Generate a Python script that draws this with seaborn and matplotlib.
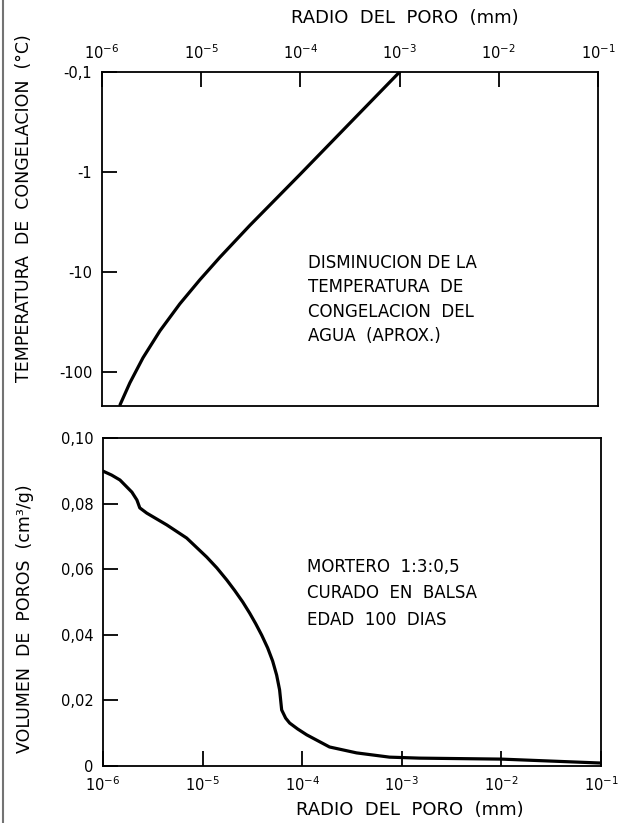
import matplotlib
matplotlib.use("Agg")
import matplotlib.pyplot as plt
import matplotlib.ticker as mticker
from matplotlib.lines import Line2D
import pandas as pd
import seaborn as sns

# ---------------- data ----------------
# Top panel: freezing temperature (deg C) vs pore radius (mm)
radio_sup = [1.52e-6, 1.91e-6, 2.59e-6, 3.84e-6, 6.09e-6, 9.70e-6,
             1.54e-5, 3.09e-5, 1.0e-4, 3.16e-4, 1.0e-3]
temp_cong = [-214, -129, -72.4, -38.9, -20.9, -12.0,
             -7.16, -3.43, -1.05, -0.324, -0.10]

# Bottom panel: pore volume (cm3/g) vs pore radius (mm)
radio_inf = [1.00e-6, 1.22e-6, 1.48e-6, 1.95e-6, 2.19e-6, 2.34e-6, 2.75e-6,
             4.37e-6, 6.92e-6, 1.10e-5, 1.39e-5, 1.75e-5, 2.10e-5, 2.53e-5,
             2.97e-5, 3.41e-5, 3.92e-5, 4.50e-5, 5.05e-5, 5.54e-5, 5.93e-5,
             6.22e-5, 6.82e-5, 7.48e-5, 8.99e-5, 1.11e-4, 1.88e-4, 3.51e-4,
             7.52e-4, 1.50e-3, 1.0e-2, 1.0e-1]
vol_poros = [0.0899, 0.0887, 0.0872, 0.0835, 0.0811, 0.0787, 0.0771,
             0.0735, 0.0695, 0.0637, 0.0604, 0.0567, 0.0535, 0.0500,
             0.0466, 0.0434, 0.0399, 0.0360, 0.0320, 0.0277, 0.0232,
             0.0171, 0.0146, 0.0131, 0.0113, 0.0095, 0.0058, 0.0040,
             0.0027, 0.0024, 0.0021, 0.0009]

x_ticks = [1e-6, 1e-5, 1e-4, 1e-3, 1e-2, 1e-1]
x_ticklabels = [r"$10^{-6}$", r"$10^{-5}$", r"$10^{-4}$", r"$10^{-3}$",
                r"$10^{-2}$", r"$10^{-1}$"]
t_ticks = [0.1, 1, 10, 100]
t_ticklabels = ["-0,1", "-1", "-10", "-100"]
v_ticks = [0, 0.02, 0.04, 0.06, 0.08, 0.10]
v_ticklabels = ["0", "0,02", "0,04", "0,06", "0,08", "0,10"]

texto_sup = "DISMINUCION DE LA\nTEMPERATURA  DE\nCONGELACION  DEL\nAGUA  (APROX.)"
texto_inf = "MORTERO  1:3:0,5\nCURADO  EN  BALSA\nEDAD  100  DIAS"

# ---------------- style ----------------
sns.set_style("ticks")
plt.rcParams["font.family"] = ["DejaVu Sans"]
plt.rcParams["mathtext.fontset"] = "dejavusans"
plt.rcParams["text.color"] = "black"

W, H = 626, 823
fig = plt.figure(figsize=(W / 100, H / 100), dpi=100)


def fx(px):
    return px / W


def fy(py):
    return 1 - py / H


ax1 = fig.add_axes([fx(102), fy(406), fx(598) - fx(102), fy(72) - fy(406)])
ax2 = fig.add_axes([fx(103), fy(766), fx(601) - fx(103), fy(438) - fy(766)])

df_sup = pd.DataFrame({"r": radio_sup, "mag": [-t for t in temp_cong]})
df_inf = pd.DataFrame({"r": radio_inf, "v": vol_poros})

sns.lineplot(data=df_sup, x="r", y="mag", ax=ax1, color="black", lw=2.3,
             estimator=None, sort=False)
sns.lineplot(data=df_inf, x="r", y="v", ax=ax2, color="black", lw=2.3,
             estimator=None, sort=False)

for ax in (ax1, ax2):
    ax.set_xscale("log")
    ax.set_xlim(1e-6, 1e-1)
    ax.set_xticks(x_ticks)
    ax.set_xticklabels(x_ticklabels)
    ax.xaxis.set_minor_locator(mticker.NullLocator())
    ax.set_xlabel("")
    ax.set_ylabel("")
    for s in ax.spines.values():
        s.set_visible(True)
        s.set_linewidth(1.3)
        s.set_color("black")
    ax.tick_params(which="major", direction="in", length=11, width=1.3,
                   labelsize=10.5, pad=7, colors="black")

# top panel
ax1.set_yscale("log")
ax1.set_ylim(220, 0.1)
ax1.set_yticks(t_ticks)
ax1.set_yticklabels(t_ticklabels)
ax1.yaxis.set_minor_locator(mticker.NullLocator())
ax1.xaxis.tick_top()
ax1.tick_params(axis="x", top=True, bottom=False, labeltop=True,
                labelbottom=False)
ax1.tick_params(axis="y", left=True, right=False)

# bottom panel
ax2.set_ylim(0, 0.10)
ax2.set_yticks(v_ticks)
ax2.set_yticklabels(v_ticklabels)
ax2.tick_params(axis="x", top=False, bottom=True)
ax2.tick_params(axis="y", left=True, right=False)

# annotations
ax1.text(0.415, 0.455, texto_sup, transform=ax1.transAxes, fontsize=12,
         va="top", ha="left", linespacing=1.45, color="black")
ax2.text(0.41, 0.635, texto_inf, transform=ax2.transAxes, fontsize=12,
         va="top", ha="left", linespacing=1.6, color="black")

# axis titles
fig.text(fx(405), fy(18), "RADIO  DEL  PORO  (mm)", fontsize=13,
         ha="center", va="center", color="black")
fig.text(fx(410), fy(810), "RADIO  DEL  PORO  (mm)", fontsize=13,
         ha="center", va="center", color="black")
fig.text(fx(24), fy(208), "TEMPERATURA  DE  CONGELACION  (°C)", fontsize=12.5,
         ha="center", va="center", rotation=90, color="black")
fig.text(fx(25), fy(619), "VOLUMEN  DE  POROS  (cm³/g)", fontsize=12.5,
         ha="center", va="center", rotation=90, color="black")

# scan border on the left
fig.add_artist(Line2D([fx(3), fx(3)], [0, 1], color="0.45", lw=1.5,
                      transform=fig.transFigure))

fig.savefig("out.png", dpi=100)
